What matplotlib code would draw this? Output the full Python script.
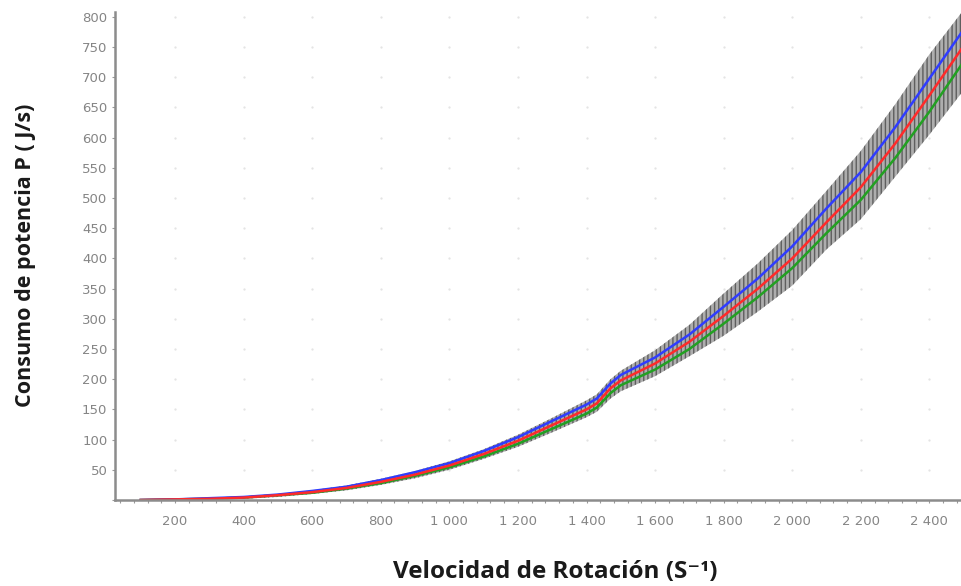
import matplotlib
matplotlib.use("Agg")
import matplotlib.pyplot as plt
from matplotlib.ticker import MultipleLocator, FuncFormatter

# velocidad de rotacion (1/s)
velocidad = [100, 200, 300, 400, 500, 600, 700, 800, 900, 1000, 1100, 1200, 1300,
             1400, 1430, 1470, 1500, 1600, 1700, 1800, 1900, 2000, 2100, 2200,
             2300, 2400, 2495]

# consumo de potencia (J/s)
potencia_media = [0, 1, 2, 4, 8, 13, 20, 30, 42, 57, 76, 98, 124,
                  150, 160, 185, 198, 226, 262, 305, 350, 400, 460, 518,
                  590, 670, 748]
potencia_alta = [0, 1, 3, 5, 9, 15, 22, 33, 46, 61, 81, 104, 131,
                 158, 168, 193, 207, 236, 274, 320, 367, 420, 483, 543,
                 617, 698, 775]
potencia_baja = [0, 1, 2, 4, 8, 12, 19, 28, 40, 54, 72, 93, 118,
                 143, 153, 177, 190, 216, 250, 292, 336, 384, 442, 497,
                 566, 643, 722]
ruido_sup = [1, 2, 4, 6, 10, 16, 24, 35, 48, 64, 84, 108, 136,
             165, 175, 200, 214, 248, 290, 342, 392, 447, 512, 578,
             655, 738, 808]
ruido_inf = [0, 0, 1, 2, 5, 10, 16, 25, 36, 50, 68, 88, 112,
             137, 146, 168, 180, 205, 238, 272, 312, 355, 415, 465,
             535, 605, 675]

fig = plt.figure(figsize=(9.62, 5.86), dpi=100)
ax = fig.add_axes([115 / 962, 1 - 500 / 586, 1 - 115 / 962, (500 - 12) / 586])

ax.fill_between(velocidad, ruido_inf, ruido_sup, facecolor="#a0a0a0", alpha=0.85,
                edgecolor="#505050", hatch="||||", linewidth=0)
ax.plot(velocidad, potencia_baja, color="#22a022", lw=1.8)
ax.plot(velocidad, potencia_alta, color="#2f3cff", lw=1.8)
ax.plot(velocidad, potencia_media, color="#ff2a2a", lw=1.8)

ax.set_xlim(25, 2495)
ax.set_ylim(0, 808)

ax.xaxis.set_major_locator(MultipleLocator(200))
ax.xaxis.set_minor_locator(MultipleLocator(40))
ax.yaxis.set_major_locator(MultipleLocator(50))

ax.xaxis.set_major_formatter(FuncFormatter(
    lambda v, p: f"{int(v):,}".replace(",", " ") if 200 <= v <= 2400 else ""))
ax.yaxis.set_major_formatter(FuncFormatter(
    lambda v, p: f"{int(v)}" if v > 0 else ""))

ax.tick_params(axis="both", which="major", length=2, width=0.8, color="#999999",
               labelcolor="#858585", labelsize=9.5)
ax.tick_params(axis="x", which="major", pad=9)
ax.tick_params(axis="x", which="minor", length=2, width=0.8, color="#999999")

for s in ["top", "right"]:
    ax.spines[s].set_visible(False)
for s in ["left", "bottom"]:
    ax.spines[s].set_color("#8c8c8c")
    ax.spines[s].set_linewidth(1.8)

# puntos de la rejilla
for gx in range(200, 2500, 200):
    for gy in range(50, 801, 50):
        ax.plot(gx, gy, marker=".", ms=1.2, color="#e2e2e2", zorder=0)

fig.text(0.577, 0.024, "Velocidad de Rotación (S⁻¹)", ha="center", va="center",
         fontsize=17.5, fontweight="bold", color="#1a1a1a",
         family=["Open Sans", "DejaVu Sans"])
fig.text(0.026, 0.565, "Consumo de potencia P ( J/s)", ha="center", va="center",
         rotation=90, fontsize=15.5, fontweight="bold", color="#1a1a1a",
         family=["Open Sans", "DejaVu Sans"])

fig.savefig("out.png", dpi=100)
